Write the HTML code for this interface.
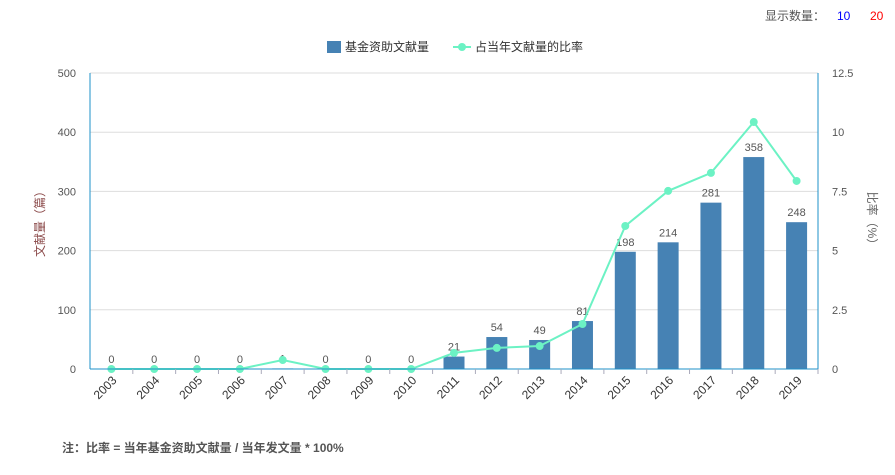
<!DOCTYPE html>
<html><head><meta charset="utf-8"><style>
body{margin:0;background:#fff;font-family:"Liberation Sans","Noto Sans CJK SC",sans-serif;}
svg text{font-family:"Liberation Sans","Noto Sans CJK SC",sans-serif;}
</style></head><body>
<svg id="chart" width="895" height="470" xmlns="http://www.w3.org/2000/svg">
<text x="765" y="20" font-size="12" fill="#555">显示数量：</text>
<text x="837" y="20" font-size="12" fill="#00f">10</text>
<text x="870" y="20" font-size="12" fill="#f00">20</text>
<g>
<rect x="327" y="41" width="14" height="12" fill="#4682b4"/>
<text x="345" y="51" font-size="12" fill="#333">基金资助文献量</text>
<line x1="453" y1="47" x2="471" y2="47" stroke="#6cf2c4" stroke-width="2"/>
<circle cx="462" cy="47" r="4" fill="#6cf2c4"/>
<text x="475" y="51" font-size="12" fill="#333">占当年文献量的比率</text>
</g>
<g id="grid"></g><g id="bars"></g><g id="line"></g><g id="axes"></g>
<text transform="translate(44,221) rotate(-90)" text-anchor="middle" font-size="12" fill="#8b4a4a">文献量（篇）</text>
<text transform="translate(868,221) rotate(90)" text-anchor="middle" font-size="12" fill="#666">比率（%）</text>
<text x="62" y="452" font-size="12" font-weight="bold" fill="#555">注：比率 = 当年基金资助文献量 / 当年发文量 * 100%</text>
</svg>
<script>
const categories=["2003","2004","2005","2006","2007","2008","2009","2010","2011","2012","2013","2014","2015","2016","2017","2018","2019"];
const counts=[0,0,0,0,1,0,0,0,21,54,49,81,198,214,281,358,248];
const ratios=[0,0,0,0,0.38,0,0,0,0.68,0.89,0.97,1.9,6.04,7.52,8.28,10.43,7.94];
const leftTicks=[0,100,200,300,400,500];
const rightTicks=["0","2.5","5","7.5","10","12.5"];
const NS="http://www.w3.org/2000/svg";
const X0=90,X1=818,Y0=369,Y1=73;
const step=(X1-X0)/categories.length;
const xc=i=>X0+step*(i+0.5);
const yL=v=>Y0-(v/500)*(Y0-Y1);
const yR=v=>Y0-(v/12.5)*(Y0-Y1);
function mk(tag,attrs,parent,txt){const e=document.createElementNS(NS,tag);for(const k in attrs)e.setAttribute(k,attrs[k]);if(txt!==undefined)e.textContent=txt;document.getElementById(parent).appendChild(e);return e;}
leftTicks.forEach((t,i)=>{
 const y=yL(t);
 if(t>0){const g=mk('line',{x1:X0,x2:X1,y1:y,y2:y,stroke:'#ddd'},'grid');
 
 }
 const a=mk('text',{x:X0-14,y:y+4,'text-anchor':'end','font-size':11,fill:'#555'},'axes',String(t));
 
 
 const b=mk('text',{x:X1+14,y:y+4,'font-size':11,fill:'#555'},'axes',rightTicks[i]);
 
 
});
mk('line',{x1:X0,x2:X0,y1:Y1,y2:Y0,stroke:'#1e90c8'},'axes');
mk('line',{x1:X1,x2:X1,y1:Y1,y2:Y0,stroke:'#1e90c8'},'axes');
mk('line',{x1:X0,x2:X1,y1:Y0,y2:Y0,stroke:'#1e90c8'},'axes');
categories.forEach((c,i)=>{
 mk('line',{x1:X0+step*(i+1),x2:X0+step*(i+1),y1:Y0,y2:Y0+5,stroke:'#aab'},'axes');
 const t=mk('text',{transform:`translate(${xc(i)+6},${Y0+12}) rotate(-45)`,'text-anchor':'end','font-size':12,fill:'#333'},'axes',c);
 
 
 const w=21,y=yL(counts[i]);
 const r=mk('rect',{x:xc(i)-w/2,y:y,width:w,height:Y0-y,fill:'#4682b4'},'bars');
 
 
 const l=mk('text',{x:xc(i),y:y-6,'text-anchor':'middle','font-size':11,fill:'#555'},'bars',String(counts[i]));
 
 
});
const pts=ratios.map((v,i)=>xc(i)+','+yR(v)).join(' ');
const pl=mk('polyline',{points:pts,fill:'none',stroke:'#6cf2c4','stroke-width':2},'line');


ratios.forEach((v,i)=>{
 const p=mk('circle',{cx:xc(i),cy:yR(v),r:4,fill:'#6cf2c4'},'line');
 
 
});
</script>
</body></html>
